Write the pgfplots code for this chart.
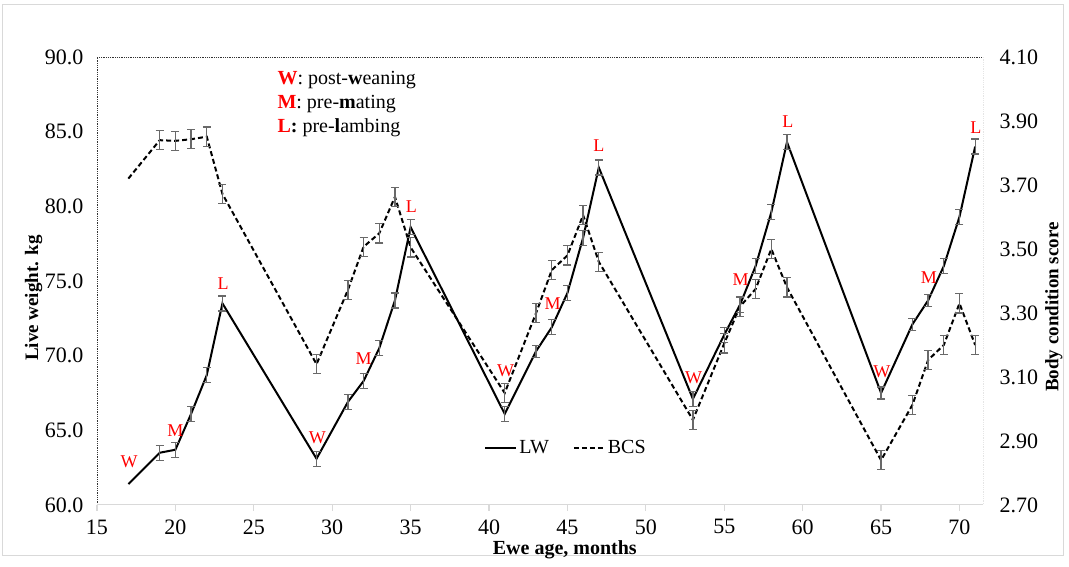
\documentclass[border=0pt]{standalone}
\usepackage{fontspec}
\setmainfont{Liberation Serif}
\usepackage{pgfplots}
\usepackage{pgfplotstable}
\pgfplotsset{compat=1.18}
\definecolor{errgray}{RGB}{105,105,105}
\definecolor{axgray}{RGB}{217,217,217}

% age (months), live weight (kg), s.e.
\pgfplotstableread{
age lw   lwerr
17  61.4 0.5
19  63.5 0.5
20  63.7 0.5
21  66.1 0.5
22  68.7 0.5
23  73.5 0.5
29  63.1 0.5
31  66.9 0.5
32  68.3 0.5
33  70.5 0.5
34  73.7 0.5
35  78.6 0.5
41  66.1 0.5
43  70.3 0.4
44  71.9 0.5
45  74.2 0.5
46  77.9 0.5
47  82.6 0.5
53  67.1 0.5
55  71.4 0.5
56  73.4 0.5
57  76.0 0.5
58  79.6 0.5
59  84.3 0.5
65  67.5 0.4
67  72.1 0.4
68  73.7 0.4
69  76.0 0.5
70  79.3 0.5
71  84.0 0.5
}\lwdata

% age (months), body condition score, s.e.
\pgfplotstableread{
age bcs   bcserr
17  3.720 0.03
19  3.840 0.03
20  3.838 0.03
21  3.843 0.03
22  3.851 0.03
23  3.672 0.03
29  3.140 0.03
31  3.372 0.03
32  3.507 0.03
33  3.549 0.03
34  3.663 0.03
35  3.505 0.03
41  3.050 0.03
43  3.300 0.03
44  3.434 0.03
45  3.480 0.03
46  3.606 0.03
47  3.460 0.03
53  2.966 0.03
55  3.205 0.03
56  3.320 0.03
57  3.375 0.03
58  3.500 0.03
59  3.380 0.03
65  2.840 0.03
67  3.013 0.03
68  3.153 0.03
69  3.200 0.03
70  3.330 0.03
71  3.200 0.03
}\bcsdata

\pgfplotsset{
  base/.style={
    scale only axis, width=886pt, height=448pt,
    xmin=15, xmax=71.5,
    axis line style={draw=none},
    ytick style={draw=none},
    tick label style={font=\fontsize{22}{24}\selectfont},
    /pgf/number format/assume math mode=true,
  },
  errs/.style={draw=none, forget plot, restrict x to domain=18:72,
    error bars/.cd, y dir=both, y explicit,
    error bar style={draw=errgray, line width=1.3pt, solid},
    error mark options={draw=errgray, rotate=90, mark size=4pt, line width=1.3pt, solid}},
}

\begin{document}
\begin{tikzpicture}[x=1pt,y=1pt]
\path[use as bounding box] (-97,-62) rectangle (972,505);
\draw[axgray, line width=1pt] (-94,-51) rectangle (966,500);

\begin{axis}[base,
  ymin=60, ymax=90, ytick={60,65,...,90},
  yticklabel style={xshift=-4pt, /pgf/number format/.cd, fixed, fixed zerofill, precision=1},
  xtick={15,20,...,70}, xtick pos=bottom, tick align=outside,
  xticklabel style={yshift=-5pt},
  major tick length=6pt, xtick style={axgray, line width=1.2pt},
  xlabel={\textbf{Ewe age, months}},
  xlabel style={font=\fontsize{20}{22}\selectfont, at={(axis description cs:0.528,-0.099)}, anchor=center},
  ylabel={\textbf{Live weight. kg}},
  ylabel style={font=\fontsize{19}{21}\selectfont, at={(axis description cs:-0.0715,0.462)}, anchor=center, rotate=0},
]
\draw[black!80, densely dotted, line width=0.8pt] (rel axis cs:0,0) -- (rel axis cs:0,1) -- (rel axis cs:1,1) -- (rel axis cs:1,0);
\draw[axgray, line width=1.5pt] (rel axis cs:0,0) -- (rel axis cs:1,0);

\addplot[black, line width=2pt] table[x=age, y=lw] {\lwdata};
\addplot[errs] table[x=age, y=lw, y error=lwerr] {\lwdata};

\begin{scope}[every node/.style={text=red, font=\fontsize{18}{20}\selectfont}]
\node at (axis cs:17.05,62.9) {W};
\node at (axis cs:20.0,65.0) {M};
\node at (axis cs:23.05,74.8) {L};
\node at (axis cs:29.05,64.5) {W};
\node at (axis cs:32.0,69.8) {M};
\node at (axis cs:35.05,80.0) {L};
\node at (axis cs:41.05,69.0) {W};
\node at (axis cs:44.05,73.5) {M};
\node at (axis cs:47.0,84.05) {L};
\node at (axis cs:53.05,68.5) {W};
\node at (axis cs:56.05,75.1) {M};
\node at (axis cs:59.05,85.7) {L};
\node at (axis cs:65.05,68.9) {W};
\node at (axis cs:68.05,75.2) {M};
\node at (axis cs:71.05,85.3) {L};
\end{scope}

\begin{scope}[every node/.style={anchor=west, inner sep=0pt, font=\fontsize{20}{22}\selectfont}]
\node at (axis cs:26.5,88.47) {\textcolor{red}{\textbf{W}}: post-\textbf{w}eaning};
\node at (axis cs:26.5,86.86) {\textcolor{red}{\textbf{M}}: pre-\textbf{m}ating};
\node at (axis cs:26.5,85.25) {\textcolor{red}{\textbf{L}}\textbf{:} pre-\textbf{l}ambing};
\end{scope}
\end{axis}

\begin{axis}[base,
  ymin=2.7, ymax=4.1, ytick={2.7,2.9,3.1,3.3,3.5,3.7,3.9,4.1},
  yticklabel style={xshift=13pt, /pgf/number format/.cd, fixed, fixed zerofill, precision=2},
  yticklabel pos=right,
  hide x axis,
  ylabel={\textbf{Body condition score}},
  ylabel style={font=\fontsize{19}{21}\selectfont, at={(axis description cs:1.080,0.442)}, anchor=center, rotate=0},
  legend style={at={(0.4335,0.127)}, anchor=west, draw=none, fill=none,
    font=\fontsize{20}{22}\selectfont, legend columns=2,
    /tikz/every even column/.append style={column sep=22pt}},
  legend image code/.code={\draw[#1] (0pt,0pt) -- (31pt,0pt);},
]
\addlegendimage{black, line width=2pt}
\addlegendentry{LW}
\addplot[black, line width=2pt, dash pattern=on 5pt off 3pt] table[x=age, y=bcs] {\bcsdata};
\addlegendentry{BCS}
\addplot[errs] table[x=age, y=bcs, y error=bcserr] {\bcsdata};
\end{axis}
\end{tikzpicture}
\end{document}
